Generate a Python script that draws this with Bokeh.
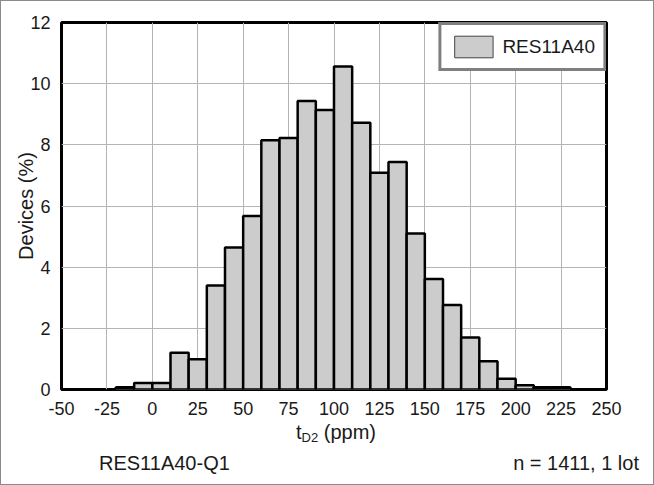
from bokeh.plotting import figure
from bokeh.models import (Range1d, FixedTicker, Legend, LegendItem,
                          ColumnDataSource, Div)
from bokeh.layouts import column
from bokeh.embed import file_html
from bokeh.resources import INLINE

# ---------------- data ----------------
bin_left = [-20, -10, 0, 10, 20, 30, 40, 50, 60, 70, 80, 90, 100, 110, 120,
            130, 140, 150, 160, 170, 180, 190, 200, 210, 220]
bin_width = 10
devices_pct = [0.07, 0.21, 0.21, 1.20, 0.99, 3.40, 4.64, 5.67, 8.15, 8.22,
               9.43, 9.14, 10.56, 8.72, 7.09, 7.44, 5.10, 3.61, 2.76, 1.70,
               0.92, 0.35, 0.14, 0.07, 0.07]
x_ticks = [-50, -25, 0, 25, 50, 75, 100, 125, 150, 175, 200, 225, 250]
y_ticks = [0, 2, 4, 6, 8, 10, 12]
series_name = "RES11A40"
x_label_main = "t"
x_label_sub = "D2"
x_label_unit = "(ppm)"
y_label = "Devices (%)"
footer_left = "RES11A40-Q1"
footer_right = "n = 1411, 1 lot"

FONT = "Liberation Sans"
TXT = "#1a1a1a"

src = ColumnDataSource(dict(
    left=bin_left,
    right=[b + bin_width for b in bin_left],
    top=devices_pct,
    bottom=[0] * len(bin_left),
))

p = figure(width=652, height=421, output_backend="svg", toolbar_location=None,
           x_range=Range1d(x_ticks[0], x_ticks[-1]),
           y_range=Range1d(y_ticks[0], y_ticks[-1]),
           min_border_left=60, min_border_right=47,
           min_border_top=21, min_border_bottom=33, margin=0)
p.background_fill_color = "white"
p.border_fill_color = "white"
p.outline_line_color = "black"
p.outline_line_width = 3

# grid
for g in (p.xgrid, p.ygrid):
    g.grid_line_color = "#b4b4b4"
    g.grid_line_width = 1
p.xgrid.ticker = FixedTicker(ticks=x_ticks)
p.ygrid.ticker = FixedTicker(ticks=y_ticks)

# axes
p.xaxis.ticker = FixedTicker(ticks=x_ticks)
p.yaxis.ticker = FixedTicker(ticks=y_ticks)
p.xaxis.major_label_overrides = {t: str(t) for t in x_ticks}
for ax in (p.xaxis[0], p.yaxis[0]):
    ax.axis_line_color = None
    ax.major_tick_line_color = None
    ax.minor_tick_line_color = None
    ax.major_tick_out = 0
    ax.major_tick_in = 0
    ax.minor_tick_out = 0
    ax.minor_tick_in = 0
    ax.major_label_text_font = FONT
    ax.major_label_text_font_size = "18px"
    ax.major_label_text_color = TXT
    ax.axis_label_text_font = FONT
    ax.axis_label_text_font_style = "normal"
    ax.axis_label_text_font_size = "20px"
    ax.axis_label_text_color = TXT
p.xaxis.major_label_standoff = 12
p.yaxis.major_label_standoff = 11
p.yaxis.axis_label = y_label
p.yaxis.axis_label_standoff = -10

# legend swatch renderer (thin outline), fully covered by the bars drawn next
sw = p.quad(left="left", right="right", top="top", bottom="bottom", source=src,
            fill_color="#cccccc", line_color="#444444", line_width=1)
# bars
p.quad(left="left", right="right", top="top", bottom="bottom", source=src,
       fill_color="#cccccc", line_color="black", line_width=2.5)

legend = Legend(items=[LegendItem(label=series_name, renderers=[sw])],
                location="top_right", margin=0, padding=8,
                glyph_width=48, glyph_height=27, label_standoff=5,
                label_width=90, label_height=27,
                border_line_color="black", border_line_width=3,
                background_fill_color="white", background_fill_alpha=1,
                label_text_font=FONT, label_text_font_size="19px",
                label_text_color=TXT)
p.add_layout(legend)

# x-axis label (with subscript) and footer line, as real HTML text
span = ("position:absolute; white-space:nowrap; font-family:'Liberation Sans';"
        " font-size:20px; line-height:20px; color:%s;" % TXT)
html = (
    '<div style="position:relative; width:652px; height:62px;">'
    f'<span style="{span} left:295px; top:0px;">{x_label_main}'
    f'<span style="font-size:13px; position:relative; top:3px;">{x_label_sub}</span>'
    f' {x_label_unit}</span>'
    f'<span style="{span} left:98px; top:31px;">{footer_left}</span>'
    f'<span style="{span} right:14px; top:31px;">{footer_right}</span>'
    '</div>'
)
div = Div(text=html, width=652, height=62, margin=0)

layout = column(p, div, spacing=0, margin=0,
                styles={"border": "1px solid #8a8a8a"})

open("out.html", "w").write(file_html(layout, INLINE))
